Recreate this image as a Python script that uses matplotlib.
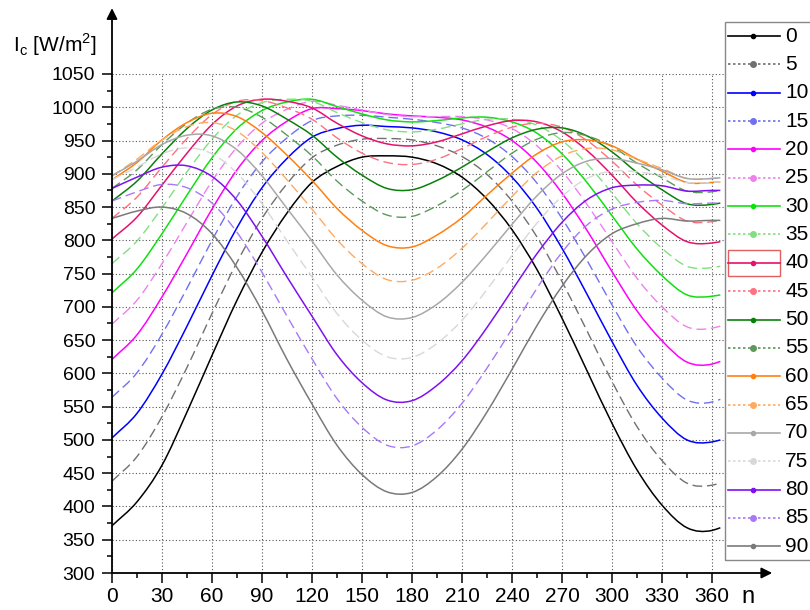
import matplotlib
matplotlib.use("Agg")
import numpy as np
import matplotlib.pyplot as plt
from matplotlib.lines import Line2D
from matplotlib.patches import Rectangle, PathPatch
from matplotlib.path import Path
from matplotlib.ticker import MultipleLocator

plt.rcParams['font.family'] = ['Liberation Sans', 'DejaVu Sans']
plt.rcParams['mathtext.fontset'] = 'custom'
plt.rcParams['mathtext.rm'] = 'Liberation Sans'

# day of year
days = [0, 15, 30, 45, 60, 75, 90, 105, 120, 135, 150, 165, 180,
        195, 210, 225, 240, 255, 270, 285, 300, 315, 330, 345, 360, 365]

# tilt angles (legend)
angles = [0, 5, 10, 15, 20, 25, 30, 35, 40, 45, 50, 55, 60, 65, 70, 75, 80, 85, 90]

# I_c [W/m2], one list per tilt angle
i00 = [371, 407, 462, 542, 627, 710, 782, 841, 887, 911, 925, 927, 925, 915, 895, 862, 816, 756, 683, 604, 525, 455, 402, 368, 364, 368]
i05 = [438, 475, 535, 609, 690, 767, 833, 885, 924, 943, 952, 953, 951, 942, 926, 899, 859, 805, 738, 664, 588, 520, 469, 435, 432, 435]
i10 = [503, 540, 599, 671, 747, 819, 879, 923, 955, 968, 973, 971, 969, 963, 951, 929, 895, 848, 788, 719, 648, 582, 533, 500, 497, 500]
i15 = [564, 601, 659, 728, 800, 866, 918, 954, 980, 987, 988, 985, 982, 977, 969, 953, 926, 886, 833, 770, 703, 640, 593, 560, 557, 561]
i20 = [621, 658, 715, 780, 847, 906, 950, 979, 998, 998, 995, 990, 987, 985, 981, 970, 950, 917, 871, 815, 753, 694, 649, 617, 614, 618]
i25 = [674, 710, 765, 827, 889, 940, 976, 997, 1009, 1003, 996, 989, 986, 986, 986, 981, 968, 942, 904, 854, 798, 743, 700, 670, 668, 671]
i30 = [721, 757, 810, 868, 924, 968, 995, 1008, 1012, 1001, 990, 981, 978, 980, 984, 985, 978, 961, 930, 887, 837, 787, 747, 718, 716, 718]
i35 = [765, 799, 849, 903, 952, 988, 1007, 1012, 1009, 992, 977, 966, 963, 967, 975, 982, 982, 973, 950, 915, 871, 825, 788, 761, 759, 761]
i40 = [802, 835, 883, 931, 974, 1002, 1012, 1009, 999, 976, 957, 945, 942, 948, 960, 972, 980, 978, 963, 935, 898, 857, 823, 798, 796, 798]
i45 = [833, 865, 910, 953, 989, 1009, 1010, 999, 982, 954, 931, 917, 914, 922, 938, 956, 970, 976, 970, 950, 919, 883, 853, 829, 828, 830]
i50 = [859, 889, 930, 968, 996, 1008, 1002, 982, 958, 925, 898, 878, 876, 890, 910, 933, 954, 967, 969, 957, 933, 902, 876, 855, 854, 856]
i55 = [878, 906, 944, 976, 997, 1000, 985, 958, 927, 889, 859, 838, 836, 852, 875, 903, 931, 952, 962, 957, 941, 916, 894, 874, 873, 875]
i60 = [891, 917, 951, 977, 991, 986, 962, 928, 890, 848, 815, 792, 790, 808, 834, 868, 901, 930, 948, 951, 942, 922, 904, 887, 887, 888]
i65 = [897, 922, 951, 971, 977, 964, 932, 891, 847, 801, 765, 741, 740, 758, 788, 826, 866, 902, 927, 938, 936, 922, 908, 893, 893, 894]
i70 = [897, 919, 944, 958, 957, 936, 897, 848, 799, 748, 710, 685, 684, 704, 737, 779, 824, 867, 900, 919, 923, 916, 906, 893, 893, 894]
i75 = [891, 910, 930, 939, 930, 901, 855, 799, 745, 690, 650, 625, 624, 645, 680, 726, 777, 826, 866, 893, 904, 903, 897, 887, 887, 888]
i80 = [878, 895, 910, 912, 896, 860, 806, 745, 686, 628, 586, 560, 559, 582, 619, 669, 725, 780, 827, 861, 879, 883, 882, 874, 875, 875]
i85 = [859, 873, 884, 879, 856, 812, 752, 686, 622, 562, 519, 492, 491, 515, 555, 608, 667, 728, 782, 823, 847, 857, 860, 855, 856, 856]
i90 = [833, 844, 850, 840, 810, 759, 694, 621, 554, 492, 448, 422, 421, 445, 486, 542, 606, 672, 731, 778, 810, 825, 833, 829, 830, 830]

series = [i00, i05, i10, i15, i20, i25, i30, i35, i40, i45,
          i50, i55, i60, i65, i70, i75, i80, i85, i90]

colors = ['#000000', '#707070', '#0000ff', '#7070f0', '#ff00ff', '#f080f0',
          '#10e010', '#80e080', '#e8106e', '#ff7080', '#0a800a', '#5a9a5a',
          '#ff8010', '#ffaa60', '#a8a8a8', '#d8d8d8', '#8010f0', '#a878f8',
          '#7a7a7a']


def smooth_path(x, y):
    # cubic Hermite curve through the points, drawn as bezier segments
    x = np.asarray(x, float)
    y = np.asarray(y, float)
    n = len(x)
    m = np.zeros(n)
    m[0] = (y[1] - y[0]) / (x[1] - x[0])
    m[-1] = (y[-1] - y[-2]) / (x[-1] - x[-2])
    for i in range(1, n - 1):
        h0, h1 = x[i] - x[i - 1], x[i + 1] - x[i]
        s0, s1 = (y[i] - y[i - 1]) / h0, (y[i + 1] - y[i]) / h1
        m[i] = (s0 * h1 + s1 * h0) / (h0 + h1)
    verts = [(x[0], y[0])]
    codes = [Path.MOVETO]
    for i in range(n - 1):
        h = x[i + 1] - x[i]
        verts += [(x[i] + h / 3, y[i] + m[i] * h / 3),
                  (x[i + 1] - h / 3, y[i + 1] - m[i + 1] * h / 3),
                  (x[i + 1], y[i + 1])]
        codes += [Path.CURVE4] * 3
    return Path(verts, codes)


W, H = 810.0, 610.0
fig = plt.figure(figsize=(8.1, 6.1), dpi=100, facecolor='white')
ax = fig.add_axes([112 / W, 1 - 573 / H, (725 - 112) / W, (573 - 74) / H])

for ang, vals, col in zip(angles, series, colors):
    if ang % 10 == 0:
        ls, lw = '-', 1.1
    else:
        ls, lw = (0, (7, 3.5)), 1.0
    ax.add_patch(PathPatch(smooth_path(days, vals), fill=False, edgecolor=col,
                           lw=lw, ls=ls, capstyle='butt'))

ax.set_xlim(0, 367.8)
ax.set_ylim(300, 1050)
ax.xaxis.set_major_locator(MultipleLocator(30))
ax.xaxis.set_minor_locator(MultipleLocator(15))
ax.yaxis.set_major_locator(MultipleLocator(50))
ax.yaxis.set_minor_locator(MultipleLocator(25))
ax.grid(True, which='major', color='#555555', ls=(0, (1, 2)), lw=0.8)
ax.set_axisbelow(True)
for s in ax.spines.values():
    s.set_visible(False)
ax.tick_params(which='major', direction='out', length=7, width=1.1,
               labelsize=14, color='black')
ax.tick_params(axis='x', which='major', labelsize=15, pad=3)
ax.tick_params(axis='y', which='major', pad=5)
ax.tick_params(which='minor', direction='out', length=3.5, width=1.1)

# axis arrows
arrow = dict(arrowstyle='-|>', color='black', lw=1.3, mutation_scale=16,
             shrinkA=0, shrinkB=0)
ax.annotate('', xy=(0, 1.132), xytext=(0, 0), xycoords='axes fraction',
            textcoords='axes fraction', arrowprops=arrow, annotation_clip=False)
ax.annotate('', xy=(1.077, 0), xytext=(0, 0), xycoords='axes fraction',
            textcoords='axes fraction', arrowprops=arrow, annotation_clip=False)

fig.text(13 / W, 1 - 45 / H, r'I$_{\mathrm{c}}$ [W/m$^{\mathrm{2}}$]',
         fontsize=15, ha='left', va='center')
fig.text(748 / W, 1 - 597 / H, 'n', fontsize=17, ha='center', va='center')

# legend drawn by hand
fig.add_artist(Rectangle((725 / W, 1 - 560 / H), 100 / W, (560 - 22) / H,
                         transform=fig.transFigure, fill=False,
                         edgecolor='#888888', lw=1.0))
for k, (ang, col) in enumerate(zip(angles, colors)):
    y = 1 - (36 + k * 28.35) / H
    ls = '-' if ang % 10 == 0 else (0, (1.5, 1.5))
    fig.add_artist(Line2D([728 / W, 780 / W], [y, y], transform=fig.transFigure,
                          color=col, lw=1.2, ls=ls))
    fig.add_artist(Line2D([753 / W], [y], transform=fig.transFigure,
                          color=col, marker='o', ms=3 if ang % 10 == 0 else 4,
                          ls='none'))
    fig.text(785 / W, y, str(ang), fontsize=15, ha='left', va='center')
    if ang == 40:
        fig.add_artist(Rectangle((728 / W, y - 13 / H), 52 / W, 26 / H,
                                 transform=fig.transFigure, fill=False,
                                 edgecolor='#e06060', lw=1.0))

fig.savefig('out.png', dpi=100)
